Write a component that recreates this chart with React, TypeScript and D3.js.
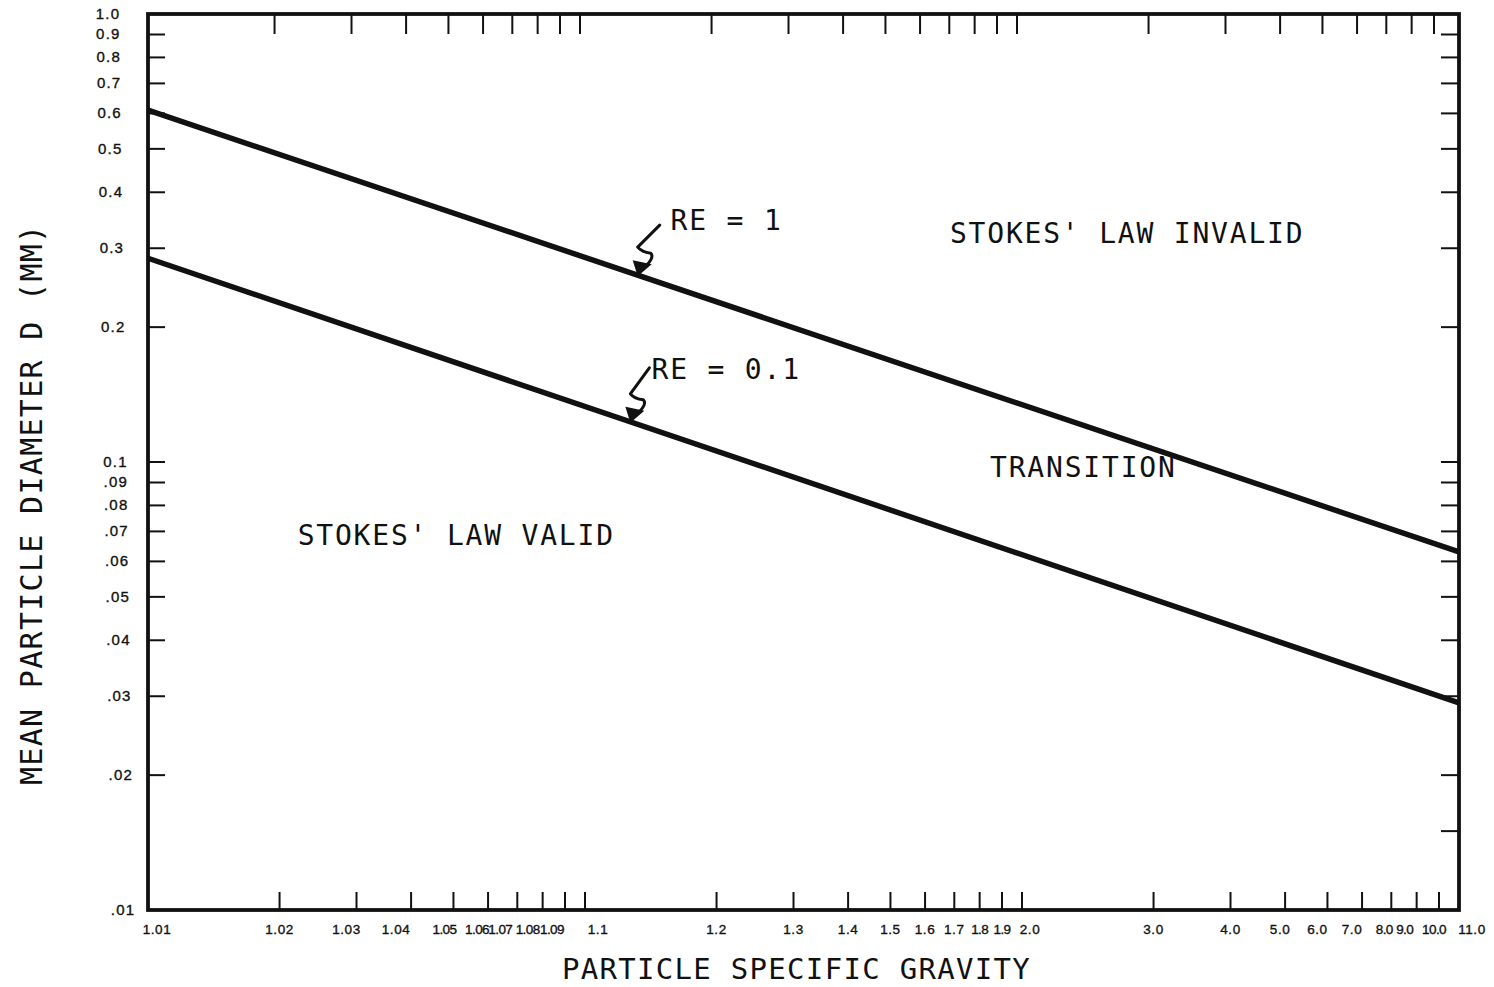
import React from 'react';
import * as d3 from 'd3';

// specific gravity at both ends of the plotted lines
const GRAVITY = [1.01, 11.0];
// mean particle diameter (mm) for Re = 1 and Re = 0.1
const DIAM_RE1 = [0.61, 0.063];
const DIAM_RE01 = [0.285, 0.029];

// x ticks (specific gravity) and their labels
const X_TICKS = [
  1.02, 1.03, 1.04, 1.05, 1.06, 1.07, 1.08, 1.09, 1.1,
  1.2, 1.3, 1.4, 1.5, 1.6, 1.7, 1.8, 1.9, 2.0,
  3.0, 4.0, 5.0, 6.0, 7.0, 8.0, 9.0, 10.0,
];
const X_LABEL_VALUES = [1.01, ...X_TICKS, 11.0];
const X_LABELS = [
  '1.01', '1.02', '1.03', '1.04', '1.05', '1.06', '1.07', '1.08', '1.09', '1.1',
  '1.2', '1.3', '1.4', '1.5', '1.6', '1.7', '1.8', '1.9', '2.0',
  '3.0', '4.0', '5.0', '6.0', '7.0', '8.0', '9.0', '10.0', '11.0',
];

// y ticks (diameter, mm) and labels
const Y_TICKS = [0.9, 0.8, 0.7, 0.6, 0.5, 0.4, 0.3, 0.2, 0.1, 0.09, 0.08, 0.07, 0.06, 0.05, 0.04, 0.03, 0.02];
const Y_TICKS_RIGHT_EXTRA = [0.015];
const Y_LABEL_VALUES = [1.0, 0.9, 0.8, 0.7, 0.6, 0.5, 0.4, 0.3, 0.2, 0.1, 0.09, 0.08, 0.07, 0.06, 0.05, 0.04, 0.03, 0.02, 0.01];
const Y_LABELS = ['1.0', '0.9', '0.8', '0.7', '0.6', '0.5', '0.4', '0.3', '0.2', '0.1', '.09', '.08', '.07', '.06', '.05', '.04', '.03', '.02', '.01'];

// text written on the plot, placed at (specific gravity, diameter)
const REGION_TEXT = ["STOKES' LAW INVALID", 'TRANSITION', "STOKES' LAW VALID"];
const REGION_SG = [1.684, 1.845, 1.022];
const REGION_D = [0.308, 0.0926, 0.0653];

const CURVE_TEXT = ['RE = 1', 'RE = 0.1'];
const CURVE_TEXT_SG = [1.157, 1.142];
const CURVE_TEXT_D = [0.33, 0.153];
// where the little arrows touch the lines
const ARROW_SG = [1.132, 1.127];

const W = 1494;
const H = 987;
const LEFT = 148;
const RIGHT = 1459;
const TOP = 14;
const BOTTOM = 910;

// small horizontal nudges for crowded x labels (px)
const X_LABEL_NUDGE: Record<string, number> = {
  '1.01': 9, '1.03': -10, '1.04': -15, '1.05': -9, '1.06': -11, '1.07': -17,
  '1.08': -15, '1.09': -13, '1.1': 13, '2.0': 8, '5.0': -5, '6.0': -10,
  '7.0': -10, '8.0': -7, '9.0': -12, '10.0': -5, '11.0': 13,
};
const TIGHT_LABELS = ['1.05', '1.06', '1.07', '1.08', '1.09', '1.8', '1.9', '8.0', '9.0', '10.0'];

// start of each squiggle, relative to its arrow tip (px)
const SQUIGGLE_START = [
  [22, -50],
  [19, -54],
];

const MONO = '"DejaVu Sans Mono", "Liberation Mono", monospace';
const SANS = '"Liberation Sans", Arial, sans-serif';
const INK = '#111';

const x = d3.scaleLog().domain([0.01, 10]).range([LEFT, RIGHT]);
const y = d3.scaleLog().domain([0.01, 1]).range([BOTTOM, TOP]);
const sx = (sg: number) => x(sg - 1);

const line = d3
  .line<number>()
  .x((_, i) => sx(GRAVITY[i]))
  .y((d) => y(d));

// squiggly pointer ending in an arrowhead at (tx, ty)
function Squiggle({ tx, ty, start }: { tx: number; ty: number; start: number[] }) {
  const p = `M ${start[0]} ${start[1]} L 0 -28 Q 4 -23 13 -22 Q 17 -18 8 -9`;
  return (
    <g transform={`translate(${tx},${ty})`}>
      <path d={p} fill="none" stroke={INK} strokeWidth={3} strokeLinejoin="round" strokeLinecap="round" />
      <path d="M 0 1 L -5 -15 L 14 -11 Z" fill={INK} />
    </g>
  );
}

const App = () => {
  const lines = [DIAM_RE1, DIAM_RE01];

  return (
    <svg
      width={W}
      height={H}
      style={{ position: 'absolute', left: 0, top: 0, background: '#fff' }}
    >
      <rect x={0} y={0} width={W} height={H} fill="#fff" />

      {/* frame */}
      <rect
        x={LEFT}
        y={TOP}
        width={RIGHT - LEFT}
        height={BOTTOM - TOP}
        fill="none"
        stroke={INK}
        strokeWidth={3.8}
      />

      {/* bottom & top ticks */}
      {X_TICKS.map((v) => (
        <g key={'xt' + v}>
          <line x1={sx(v)} x2={sx(v)} y1={BOTTOM} y2={BOTTOM - 18} stroke={INK} strokeWidth={2} />
          <line x1={sx(v) - 5} x2={sx(v) - 5} y1={TOP} y2={TOP + 20} stroke={INK} strokeWidth={2} />
        </g>
      ))}

      {/* left & right ticks */}
      {Y_TICKS.map((v) => (
        <g key={'yt' + v}>
          <line x1={LEFT} x2={LEFT + 17} y1={y(v)} y2={y(v)} stroke={INK} strokeWidth={2} />
          <line x1={RIGHT} x2={RIGHT - 18} y1={y(v)} y2={y(v)} stroke={INK} strokeWidth={2} />
        </g>
      ))}
      {Y_TICKS_RIGHT_EXTRA.map((v) => (
        <line key={'yr' + v} x1={RIGHT} x2={RIGHT - 18} y1={y(v)} y2={y(v)} stroke={INK} strokeWidth={2} />
      ))}

      {/* x tick labels */}
      {X_LABEL_VALUES.map((v, i) => {
        const tight = TIGHT_LABELS.includes(X_LABELS[i]);
        return (
          <text
            key={'xl' + i}
            x={sx(v) + (X_LABEL_NUDGE[X_LABELS[i]] || 0)}
            y={934}
            textAnchor="middle"
            fontFamily={SANS}
            fontSize={13.5}
            letterSpacing={tight ? -0.6 : 0.6}
            fill={INK}
            stroke={INK}
            strokeWidth={0.35}
          >
            {X_LABELS[i]}
          </text>
        );
      })}

      {/* y tick labels */}
      {Y_LABEL_VALUES.map((v, i) => (
        <text
          key={'yl' + i}
          x={108 + (15 * (y(v) - TOP)) / (BOTTOM - TOP)}
          y={y(v) + 5}
          textAnchor="middle"
          fontFamily={SANS}
          fontSize={15}
          letterSpacing={1.2}
          fill={INK}
          stroke={INK}
          strokeWidth={0.35}
        >
          {Y_LABELS[i]}
        </text>
      ))}

      {/* Reynolds number lines */}
      {lines.map((d, i) => (
        <path key={'ln' + i} d={line(d) || ''} fill="none" stroke={INK} strokeWidth={5.5} />
      ))}

      {/* arrows */}
      {ARROW_SG.map((sg, i) => {
        const g0 = sx(GRAVITY[0]);
        const g1 = sx(GRAVITY[1]);
        const f = (sx(sg) - g0) / (g1 - g0);
        const ty = y(lines[i][0]) + f * (y(lines[i][1]) - y(lines[i][0]));
        return <Squiggle key={'ar' + i} tx={sx(sg)} ty={ty} start={SQUIGGLE_START[i]} />;
      })}

      {/* curve labels */}
      {CURVE_TEXT.map((t, i) => (
        <text
          key={'ct' + i}
          x={sx(CURVE_TEXT_SG[i])}
          y={y(CURVE_TEXT_D[i])}
          fontFamily={MONO}
          fontSize={28}
          letterSpacing={1.8}
          fill={INK}
        >
          {t}
        </text>
      ))}

      {/* region labels */}
      {REGION_TEXT.map((t, i) => (
        <text
          key={'rt' + i}
          x={sx(REGION_SG[i])}
          y={y(REGION_D[i])}
          fontFamily={MONO}
          fontSize={28}
          letterSpacing={1.8}
          fill={INK}
        >
          {t}
        </text>
      ))}

      {/* axis titles */}
      <text x={562} y={979} fontFamily={MONO} fontSize={29} letterSpacing={1.3} fill={INK}>
        PARTICLE SPECIFIC GRAVITY
      </text>
      <text
        transform="translate(42,785) rotate(-90)"
        fontFamily={MONO}
        fontSize={30}
        letterSpacing={1.3}
        fill={INK}
      >
        MEAN PARTICLE DIAMETER D (MM)
      </text>
    </svg>
  );
};

export default App;
